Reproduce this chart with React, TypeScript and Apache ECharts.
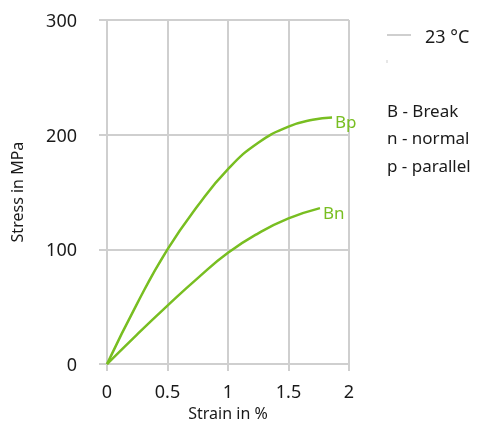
import React, { useEffect, useRef } from "react";
import * as echarts from "echarts";

const xTicks = [0, 0.5, 1, 1.5, 2];
const yTicks = [0, 100, 200, 300];
const bpData: [number, number][] = [
  [0, 0], [0.25, 53], [0.5, 100], [0.75, 138], [1, 170], [1.25, 193], [1.5, 207], [1.7, 213], [1.86, 215],
];
const bnData: [number, number][] = [
  [0, 0], [0.25, 26], [0.5, 51], [0.75, 75], [1, 97], [1.25, 114], [1.5, 127], [1.76, 136],
];
const legendLabel = "23 °C";
const notes = ["B - Break", "n - normal", "p - parallel"];

const GREEN = "#78be21";
const GRAY = "#cfcfcf";
const TEXT = "#1a1a1a";
const FONT = "'Noto Sans', 'Open Sans', sans-serif";

export default function App() {
  const ref = useRef<HTMLDivElement>(null);
  useEffect(() => {
    if (!ref.current) return;
    const chart = echarts.init(ref.current, undefined, { renderer: "svg" });
    const line = (name: string, data: [number, number][]) => ({
      type: "line",
      name,
      data,
      smooth: 0.5,
      showSymbol: false,
      lineStyle: { color: GREEN, width: 2.5 },
      endLabel: {
        show: true,
        formatter: name,
        color: GREEN,
        fontSize: 17,
        fontFamily: FONT,
        distance: 3,
        offset: [0, 4],
      },
    });
    chart.setOption({
      animation: false,
      textStyle: { fontFamily: FONT },
      grid: { left: 107, right: 128, top: 20, bottom: 61 },
      xAxis: {
        type: "value",
        min: 0,
        max: 2,
        interval: 0.5,
        name: "Strain in %",
        nameLocation: "middle",
        nameGap: 37,
        nameTextStyle: { color: TEXT, fontSize: 16, fontFamily: FONT },
        axisLine: { show: false },
        axisTick: { show: true, length: 7, lineStyle: { color: GRAY, width: 2 } },
        splitLine: { show: true, lineStyle: { color: GRAY, width: 2 } },
        axisLabel: { color: TEXT, fontSize: 18, fontFamily: FONT, margin: 18, formatter: (v: number) => String(v) },
      },
      yAxis: {
        type: "value",
        min: 0,
        max: 300,
        interval: 100,
        name: "Stress in MPa",
        nameLocation: "middle",
        nameGap: 82,
        nameTextStyle: { color: TEXT, fontSize: 16, fontFamily: FONT },
        axisLine: { show: false },
        axisTick: { show: true, length: 8, lineStyle: { color: GRAY, width: 2 } },
        splitLine: { show: true, lineStyle: { color: GRAY, width: 2 } },
        axisLabel: { color: TEXT, fontSize: 18, fontFamily: FONT, margin: 30 },
      },
      graphic: [
        { type: "line", shape: { x1: 387, y1: 35, x2: 411, y2: 35 }, style: { stroke: GRAY, lineWidth: 2 } },
        { type: "line", shape: { x1: 387, y1: 60, x2: 387, y2: 63 }, style: { stroke: GRAY, lineWidth: 1 } },
        { type: "text", x: 425, y: 36, style: { text: legendLabel, fill: TEXT, fontSize: 18, fontFamily: FONT, verticalAlign: "middle" } },
        ...notes.map((t, i) => ({
          type: "text",
          x: 387,
          y: 110 + i * 27.5,
          style: { text: t, fill: TEXT, fontSize: 17, fontFamily: FONT, verticalAlign: "middle" },
        })),
      ],
      series: [line("Bp", bpData), line("Bn", bnData)],
    });
    return () => chart.dispose();
  }, []);
  return <div ref={ref} style={{ position: "fixed", left: 0, top: 0, width: 477, height: 426 }} />;
}
